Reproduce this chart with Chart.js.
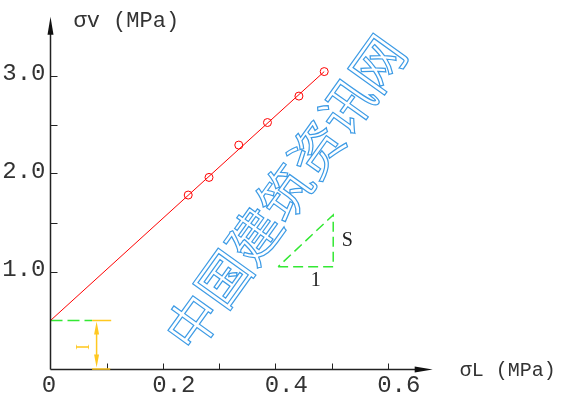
<!DOCTYPE html>
<html>
<head>
<meta charset="utf-8">
<script src="https://cdn.jsdelivr.net/npm/chart.js@4/dist/chart.umd.min.js"></script>
<style>
  body { margin: 0; background: #fff; }
</style>
</head>
<body>
<canvas id="chart" width="569" height="394"></canvas>
<script>
// measured points
const sigmaL = [0.245, 0.282, 0.335, 0.386, 0.442, 0.487];
const sigmaV = [1.78, 1.96, 2.29, 2.52, 2.79, 3.04];

// fitted line, intercept I = 0.5
const fitL = [0, 0.487];
const fitV = [0.5, 3.04];

// slope triangle
const triL = [0.405, 0.503, 0.503, 0.405];
const triV = [1.049, 1.049, 1.577, 1.049];

// intercept marker
const interceptL = [0, 0.074];
const interceptV = [0.5, 0.5];
const dimL = 0.082;
const dimCap = [0.074, 0.108];

const xTicks = [0.1, 0.2, 0.3, 0.4, 0.5, 0.6];
const xLabels = [0, 0.2, 0.4, 0.6];
const yTicks = [1.0, 1.5, 2.0, 2.5, 3.0];
const yLabels = [1.0, 2.0, 3.0];

const watermark = "中国建筑资讯网";

const toXY = (xs, ys) => xs.map((x, i) => ({ x: x, y: ys[i] }));

const mono = '"Liberation Mono", monospace';
const serif = '"Liberation Serif", serif';

const decor = {
  id: "decor",
  beforeDatasetsDraw(chart) {
    const ctx = chart.ctx;
    ctx.save();
    ctx.translate(285, 192.5);
    ctx.rotate(-54.4 * Math.PI / 180);
    ctx.font = '53px "Noto Sans CJK SC"';
    ctx.textAlign = "center";
    ctx.textBaseline = "middle";
    ctx.strokeStyle = "#3d9be5";
    ctx.lineWidth = 1.2;
    ctx.strokeText(watermark, 0, 0);
    ctx.restore();
  },
  afterDraw(chart) {
    const ctx = chart.ctx;
    const xs = chart.scales.x, ys = chart.scales.y;
    const x0 = xs.getPixelForValue(0), y0 = ys.getPixelForValue(0);
    const xEnd = xs.getPixelForValue(xs.max), yEnd = ys.getPixelForValue(ys.max);

    ctx.save();
    // axes
    ctx.strokeStyle = "#222";
    ctx.fillStyle = "#111";
    ctx.lineWidth = 1.5;
    ctx.beginPath();
    ctx.moveTo(x0, y0);
    ctx.lineTo(x0, yEnd + 10);
    ctx.moveTo(x0, y0);
    ctx.lineTo(xEnd - 10, y0);
    ctx.stroke();
    // arrow heads
    ctx.beginPath();
    ctx.moveTo(x0, yEnd);
    ctx.lineTo(x0 - 3, yEnd + 18);
    ctx.lineTo(x0 + 3, yEnd + 18);
    ctx.closePath();
    ctx.fill();
    ctx.beginPath();
    ctx.moveTo(xEnd, y0);
    ctx.lineTo(xEnd - 18, y0 - 3);
    ctx.lineTo(xEnd - 18, y0 + 3);
    ctx.closePath();
    ctx.fill();

    // ticks (inside)
    ctx.lineWidth = 1;
    ctx.beginPath();
    xTicks.forEach(v => {
      const px = Math.round(xs.getPixelForValue(v)) + 0.5;
      ctx.moveTo(px, y0);
      ctx.lineTo(px, y0 - 6);
    });
    yTicks.forEach(v => {
      const py = Math.round(ys.getPixelForValue(v)) + 0.5;
      ctx.moveTo(x0, py);
      ctx.lineTo(x0 + 7, py);
    });
    ctx.stroke();

    // tick labels
    ctx.fillStyle = "#333";
    ctx.font = "24px " + mono;
    ctx.textBaseline = "middle";
    ctx.textAlign = "center";
    xLabels.forEach(v => {
      const px = xs.getPixelForValue(v) + (v === 0 ? -1.5 : 11);
      ctx.fillText(v === 0 ? "0" : v.toFixed(1), px, y0 + 16);
    });
    ctx.textAlign = "right";
    yLabels.forEach(v => {
      ctx.fillText(v.toFixed(1), x0 - 5, ys.getPixelForValue(v) - 2);
    });

    // axis titles
    ctx.textAlign = "left";
    ctx.textBaseline = "alphabetic";
    ctx.font = "22px " + mono;
    ctx.fillText("σv (MPa)", x0 + 23, yEnd + 10);
    ctx.font = "20px " + mono;
    ctx.fillText("σL (MPa)", xEnd + 27, y0 + 6);

    // slope labels
    ctx.fillStyle = "#222";
    ctx.font = "20px " + serif;
    ctx.textAlign = "center";
    ctx.textBaseline = "middle";
    const tx = xs.getPixelForValue(triL[1]);
    const tyMid = (ys.getPixelForValue(triV[0]) + ys.getPixelForValue(triV[2])) / 2;
    ctx.fillText("S", tx + 14, tyMid);
    const bx = (xs.getPixelForValue(triL[0]) + xs.getPixelForValue(triL[1])) / 2;
    ctx.fillText("1", bx + 10, ys.getPixelForValue(triV[0]) + 14);

    // intercept dimension
    const gold = "#ffc820";
    ctx.strokeStyle = gold;
    ctx.fillStyle = gold;
    ctx.lineWidth = 1.5;
    const dx = xs.getPixelForValue(dimL);
    const yTop = ys.getPixelForValue(interceptV[0]);
    ctx.beginPath();
    ctx.moveTo(xs.getPixelForValue(dimCap[0]), yTop);
    ctx.lineTo(xs.getPixelForValue(dimCap[1]), yTop);
    ctx.moveTo(xs.getPixelForValue(dimCap[0]), y0 - 0.5);
    ctx.lineTo(xs.getPixelForValue(dimCap[1]) - 1, y0 - 0.5);
    ctx.moveTo(dx, yTop + 12);
    ctx.lineTo(dx, y0 - 12);
    ctx.stroke();
    ctx.beginPath();
    ctx.moveTo(dx, yTop + 1);
    ctx.lineTo(dx - 2.5, yTop + 14);
    ctx.lineTo(dx + 2.5, yTop + 14);
    ctx.closePath();
    ctx.moveTo(dx, y0 - 2);
    ctx.lineTo(dx - 2.5, y0 - 15);
    ctx.lineTo(dx + 2.5, y0 - 15);
    ctx.closePath();
    ctx.fill();
    ctx.translate(dx - 12, (yTop + y0) / 2 + 2);
    ctx.rotate(-Math.PI / 2);
    ctx.font = "18px " + serif;
    ctx.fillText("I", 0, 0);
    ctx.restore();
  }
};

new Chart(document.getElementById("chart"), {
  type: "scatter",
  data: {
    datasets: [
      {
        data: toXY(sigmaL, sigmaV),
        borderColor: "#ff0000",
        backgroundColor: "rgba(0,0,0,0)",
        borderWidth: 1,
        pointRadius: 4,
        showLine: false
      },
      {
        data: toXY(fitL, fitV),
        borderColor: "#ff0000",
        borderWidth: 1,
        pointRadius: 0,
        showLine: true
      },
      {
        data: toXY(interceptL, interceptV),
        borderColor: "#33e833",
        borderWidth: 1.5,
        borderDash: [12, 5],
        pointRadius: 0,
        showLine: true
      },
      {
        data: toXY(triL, triV),
        borderColor: "#33e833",
        borderWidth: 1.5,
        borderDash: [10, 5],
        pointRadius: 0,
        showLine: true
      }
    ]
  },
  options: {
    responsive: false,
    animation: false,
    layout: {
      padding: { left: 50.5, right: 136.3, top: 16.7, bottom: 24.5 }
    },
    plugins: {
      legend: { display: false },
      tooltip: { enabled: false }
    },
    scales: {
      x: { type: "linear", min: 0, max: 0.68, display: false },
      y: { type: "linear", min: 0, max: 3.6, display: false }
    }
  },
  plugins: [decor]
});
</script>
</body>
</html>
